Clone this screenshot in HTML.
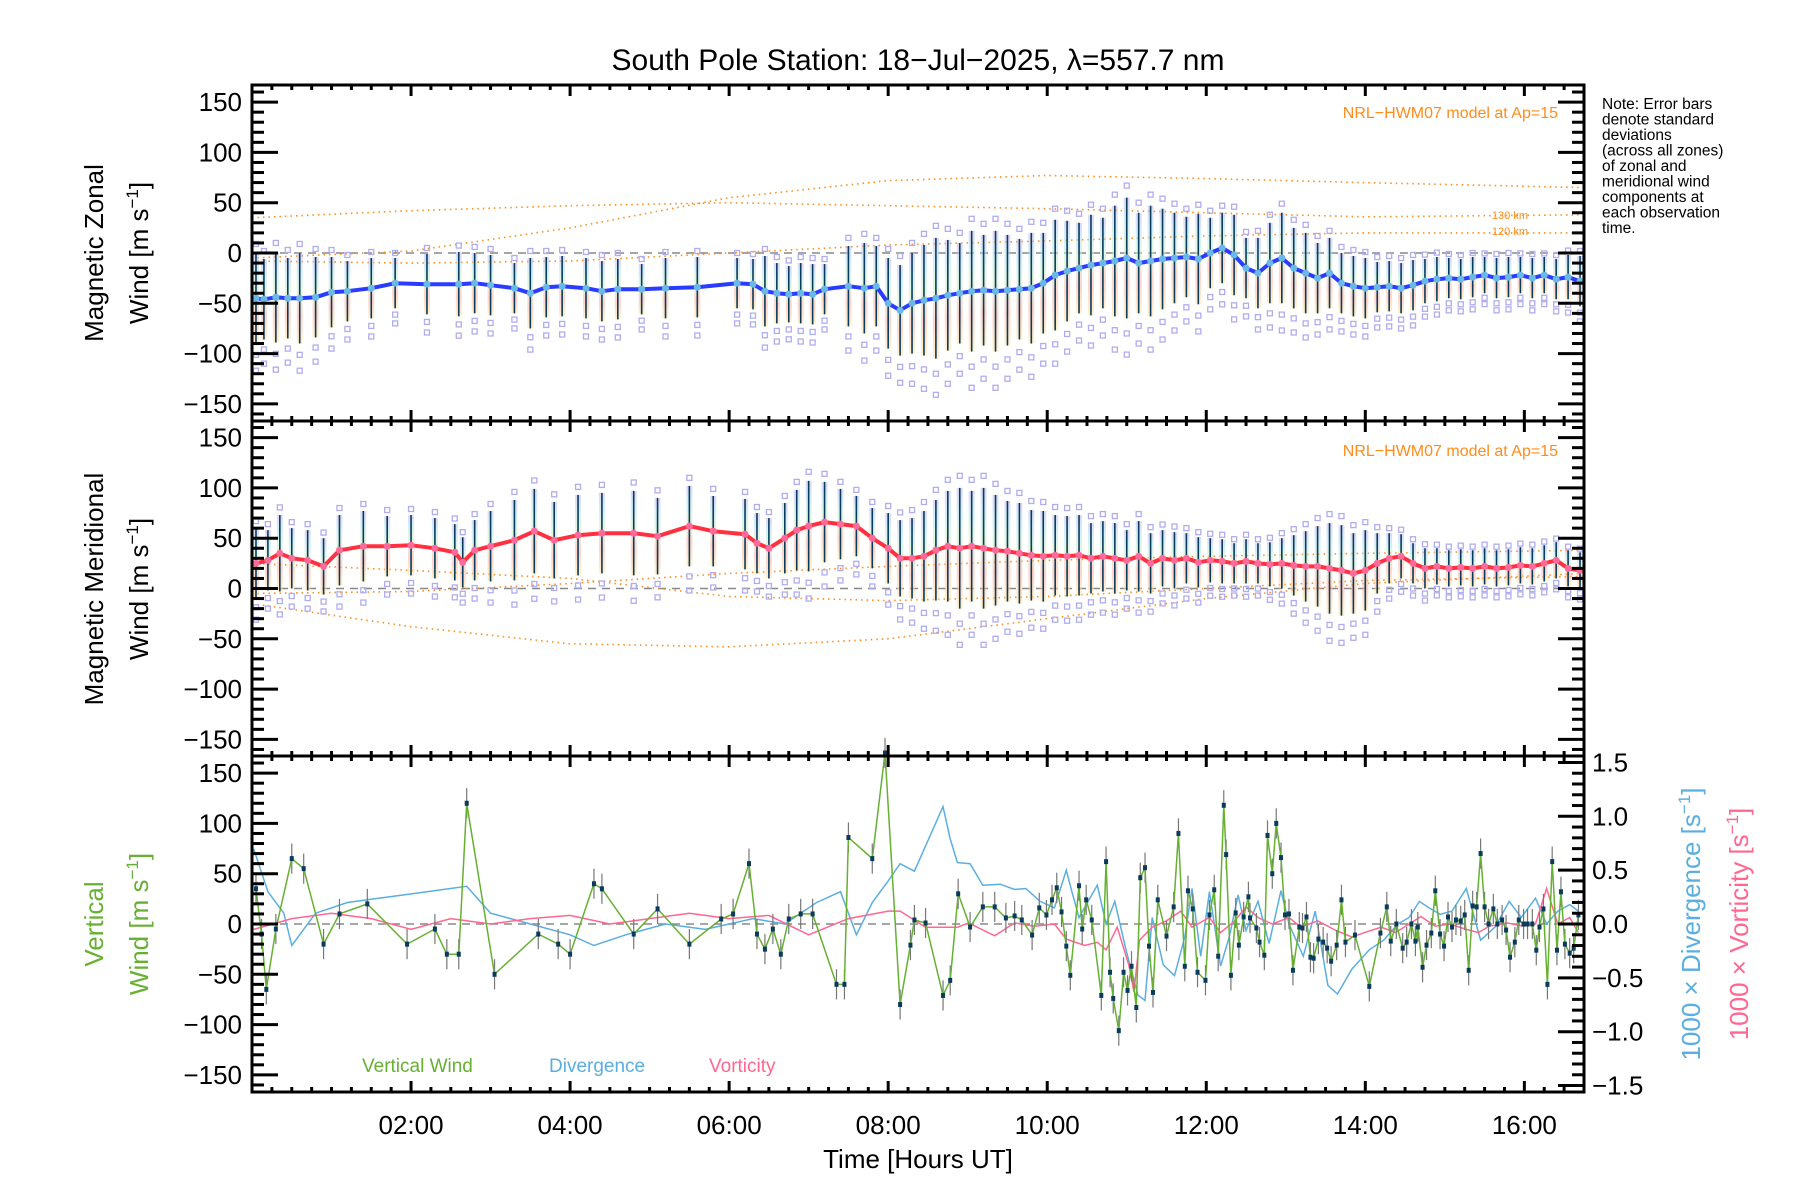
<!DOCTYPE html>
<html><head><meta charset="utf-8">
<style>
html,body{margin:0;padding:0;background:#fff;}
svg{display:block;font-family:"Liberation Sans","DejaVu Sans",sans-serif;}
</style></head>
<body>
<svg id="chart" width="1800" height="1200" viewBox="0 0 1800 1200" xmlns="http://www.w3.org/2000/svg">
<defs>
<linearGradient id="band" x1="0" y1="1" x2="0" y2="0">
<stop offset="0" stop-color="#ffe7a0"/><stop offset="0.3" stop-color="#ffb0a0"/><stop offset="0.6" stop-color="#c8f0c8"/><stop offset="0.8" stop-color="#b0e0f0"/><stop offset="1" stop-color="#c0b8f0"/>
</linearGradient>
</defs>
<text x="918" y="70" font-size="30" text-anchor="middle">South Pole Station: 18−Jul−2025, λ=557.7 nm</text>
<g id="g"></g>
<g font-size="15.5" fill="#000">
<text x="1602" y="109">Note: Error bars</text>
<text x="1602" y="124.5">denote standard</text>
<text x="1602" y="140">deviations</text>
<text x="1602" y="155.5">(across all zones)</text>
<text x="1602" y="171">of zonal and</text>
<text x="1602" y="186.5">meridional wind</text>
<text x="1602" y="202">components at</text>
<text x="1602" y="217.5">each observation</text>
<text x="1602" y="233">time.</text>
</g>
<text x="1558" y="118" font-size="16" fill="#ff8c1a" text-anchor="end">NRL−HWM07 model at Ap=15</text>
<text x="1558" y="456" font-size="16" fill="#ff8c1a" text-anchor="end">NRL−HWM07 model at Ap=15</text>
<text x="1528" y="219" font-size="11" fill="#ff8c1a" text-anchor="end">130 km</text>
<text x="1528" y="235" font-size="11" fill="#ff8c1a" text-anchor="end">120 km</text>
<g font-size="26" text-anchor="middle">
<text transform="translate(103,253) rotate(-90)">Magnetic Zonal</text>
<text transform="translate(148,253) rotate(-90)">Wind [m s<tspan font-size="17" dy="-10">−1</tspan><tspan dy="10">]</tspan></text>
</g>
<g font-size="26" text-anchor="middle">
<text transform="translate(103,589) rotate(-90)">Magnetic Meridional</text>
<text transform="translate(148,589) rotate(-90)">Wind [m s<tspan font-size="17" dy="-10">−1</tspan><tspan dy="10">]</tspan></text>
</g>
<g font-size="26" text-anchor="middle" fill="#66b032">
<text transform="translate(103,924) rotate(-90)">Vertical</text>
<text transform="translate(148,924) rotate(-90)">Wind [m s<tspan font-size="17" dy="-10">−1</tspan><tspan dy="10">]</tspan></text>
</g>
<text font-size="26" fill="#5aaee0" text-anchor="middle" transform="translate(1700,924) rotate(-90)">1000 × Divergence [s<tspan font-size="17" dy="-10">−1</tspan><tspan dy="10">]</tspan></text>
<text font-size="26" fill="#ff6690" text-anchor="middle" transform="translate(1748,924) rotate(-90)">1000 × Vorticity [s<tspan font-size="17" dy="-10">−1</tspan><tspan dy="10">]</tspan></text>
<text x="362" y="1072" font-size="19" fill="#66b032">Vertical Wind</text>
<text x="549" y="1072" font-size="19" fill="#5aaee0">Divergence</text>
<text x="709" y="1072" font-size="19" fill="#ff6690">Vorticity</text>
<text x="918" y="1168" font-size="26" text-anchor="middle">Time [Hours UT]</text>
</svg>
<script>
// ---- data ----
const xTickHours = [2,4,6,8,10,12,14,16];
const xTickLabels = ["02:00","04:00","06:00","08:00","10:00","12:00","14:00","16:00"];
const windTicks = [-150,-100,-50,0,50,100,150];
const rateTicks = [-1.5,-1.0,-0.5,0.0,0.5,1.0,1.5];
const zonalTimes = [0.05,0.15,0.3,0.45,0.6,0.8,1.0,1.2,1.5,1.8,2.2,2.6,2.8,3.0,3.3,3.5,3.7,3.9,4.2,4.4,4.6,4.9,5.2,5.6,6.1,6.3,6.45,6.6,6.75,6.9,7.05,7.2,7.5,7.7,7.85,8.0,8.15,8.3,8.45,8.6,8.75,8.9,9.05,9.2,9.35,9.5,9.65,9.8,9.95,10.1,10.25,10.4,10.55,10.7,10.85,11.0,11.15,11.3,11.45,11.6,11.75,11.9,12.05,12.2,12.35,12.5,12.65,12.8,12.95,13.1,13.25,13.4,13.55,13.7,13.85,14.0,14.15,14.3,14.45,14.6,14.75,14.9,15.05,15.2,15.35,15.5,15.65,15.8,15.95,16.1,16.25,16.4,16.55,16.7];
const zonalMean = [-45,-46,-44,-45,-45,-44,-39,-38,-35,-30,-31,-31,-30,-32,-35,-40,-34,-33,-35,-38,-36,-36,-35,-34,-30,-31,-38,-40,-41,-40,-41,-36,-33,-35,-33,-50,-57,-50,-47,-45,-42,-40,-38,-37,-38,-37,-36,-35,-30,-22,-18,-15,-12,-10,-8,-5,-10,-8,-6,-5,-4,-6,0,5,-2,-15,-20,-10,-5,-15,-20,-25,-20,-30,-33,-35,-34,-33,-35,-32,-28,-26,-25,-26,-24,-22,-25,-24,-22,-25,-22,-26,-24,-28];
const zonalStd = [45,40,45,40,45,40,35,30,30,25,30,32,30,30,25,35,30,30,30,30,30,25,30,30,25,25,35,30,28,30,30,25,40,45,40,45,45,50,55,60,55,50,60,55,60,55,50,55,50,55,50,45,50,45,55,60,50,55,50,45,40,45,35,35,40,30,35,40,45,40,40,35,35,30,30,30,25,25,25,25,22,22,20,20,20,18,20,20,18,20,18,20,22,25];
const meridTimes = [0.05,0.2,0.35,0.5,0.7,0.9,1.1,1.4,1.7,2.0,2.3,2.55,2.65,2.8,3.0,3.3,3.55,3.8,4.1,4.4,4.8,5.1,5.5,5.8,6.2,6.35,6.5,6.7,6.85,7.0,7.2,7.4,7.6,7.8,8.0,8.15,8.3,8.45,8.6,8.75,8.9,9.05,9.2,9.35,9.5,9.65,9.8,9.95,10.1,10.25,10.4,10.55,10.7,10.85,11.0,11.15,11.3,11.45,11.6,11.75,11.9,12.05,12.2,12.35,12.5,12.65,12.8,12.95,13.1,13.25,13.4,13.55,13.7,13.85,14.0,14.15,14.3,14.45,14.6,14.75,14.9,15.05,15.2,15.35,15.5,15.65,15.8,15.95,16.1,16.25,16.4,16.55,16.7];
const meridMean = [25,28,35,30,28,22,38,42,42,43,40,36,26,38,42,48,57,48,53,55,55,52,62,57,54,45,40,50,58,62,66,64,62,50,40,30,30,32,38,42,40,42,40,38,37,35,33,32,33,32,33,30,32,30,28,32,25,30,28,30,26,28,27,25,27,25,24,25,23,22,22,20,18,15,18,25,30,32,25,20,22,20,21,20,22,20,21,23,22,25,28,20,18];
const meridStd = [35,30,38,30,30,28,35,35,30,30,30,28,25,30,35,40,42,38,40,40,42,38,40,35,35,30,30,35,40,45,40,35,30,30,35,38,40,45,50,55,60,55,60,55,50,50,45,45,40,40,40,35,35,35,30,35,30,28,28,25,25,22,22,20,22,20,22,25,30,35,40,45,45,40,40,30,25,22,20,20,18,18,18,18,18,18,18,18,18,18,18,18,18];
const vertTimes = [0.05,0.12,0.18,0.3,0.5,0.65,0.9,1.1,1.45,1.95,2.3,2.45,2.6,2.7,3.05,3.6,3.85,4.0,4.3,4.4,4.8,5.1,5.5,5.9,6.05,6.25,6.35,6.45,6.55,6.65,6.75,6.9,7.05,7.35,7.45,7.5,7.8,7.96,8.15,8.28,8.33,8.47,8.69,8.78,8.88,9.03,9.19,9.34,9.48,9.59,9.68,9.81,9.9,9.99,10.06,10.12,10.18,10.24,10.29,10.4,10.44,10.49,10.56,10.68,10.74,10.79,10.83,10.9,10.96,11.01,11.06,11.12,11.17,11.23,11.28,11.33,11.39,11.5,11.59,11.65,11.73,11.77,11.83,11.89,11.99,12.04,12.1,12.15,12.22,12.25,12.31,12.37,12.41,12.47,12.53,12.55,12.63,12.67,12.73,12.77,12.83,12.88,12.94,12.99,13.04,13.09,13.17,13.21,13.26,13.31,13.35,13.41,13.47,13.52,13.57,13.64,13.7,13.75,13.87,14.05,14.19,14.27,14.32,14.39,14.47,14.52,14.58,14.63,14.66,14.72,14.77,14.83,14.88,14.94,14.99,15.04,15.09,15.14,15.2,15.25,15.3,15.35,15.4,15.45,15.5,15.55,15.61,15.66,15.72,15.77,15.82,15.88,15.93,15.99,16.04,16.1,16.15,16.19,16.24,16.29,16.35,16.41,16.46,16.51,16.57,16.62,16.68];
const vertWind = [35,-10,-65,-5,65,55,-20,10,20,-20,-5,-30,-30,120,-50,-10,-20,-30,40,35,-10,15,-20,5,10,60,-10,-25,-5,-30,5,10,10,-60,-60,86,65,170,-80,-21,4,1,-71,-56,30,-3,17,17,6,8,4,-11,16,9,24,36,12,-22,-51,38,-5,24,4,-71,62,-48,-74,-106,-48,-66,-42,-83,46,56,-22,-68,24,-12,17,90,-42,33,15,-48,-56,9,34,-32,118,69,-51,11,-21,7,27,6,-4,-18,-31,88,50,100,66,9,10,-46,-3,-4,7,-33,-34,-15,-18,-24,-37,-21,24,-18,-11,-62,-9,17,-17,0,-24,-18,0,-17,-3,-43,-21,-9,33,-10,-22,7,-3,4,3,9,-46,18,17,70,17,0,15,0,4,-6,-33,-18,4,0,0,0,-26,-3,15,-60,62,-26,32,-20,-29,-24,9];
const divTimes = [0.02,0.2,0.4,0.5,0.8,1.2,1.7,2.2,2.7,3.0,3.5,4.0,4.3,4.7,5.2,5.7,6.3,6.7,7.1,7.4,7.6,7.8,8.0,8.15,8.33,8.69,8.78,8.87,9.03,9.19,9.41,9.59,9.73,9.91,10.09,10.24,10.31,10.4,10.49,10.63,10.74,10.85,10.99,11.14,11.23,11.32,11.46,11.6,11.73,11.82,11.93,12.04,12.18,12.29,12.4,12.5,12.65,12.79,12.94,13.04,13.22,13.37,13.53,13.65,13.83,14.05,14.23,14.41,14.55,14.68,14.8,14.94,15.09,15.27,15.45,15.63,15.81,15.96,16.14,16.28,16.42,16.57,16.68];
const divergence = [0.7,0.3,0.1,-0.2,0.1,0.2,0.25,0.3,0.35,0.1,0.0,-0.1,-0.2,-0.1,0.0,-0.05,0.05,0.0,0.2,0.3,-0.1,0.2,0.4,0.56,0.49,1.09,0.79,0.57,0.56,0.36,0.37,0.32,0.33,0.21,0.15,0.5,0.3,0.06,0.18,0.36,0.0,0.21,-0.24,-0.66,-0.71,0.06,-0.38,-0.48,-0.12,0.33,-0.3,0.3,-0.39,-0.12,0.27,-0.06,0.21,-0.18,0.31,0.0,-0.3,0.12,-0.57,-0.65,-0.42,-0.24,-0.15,0.0,0.06,0.21,0.15,0.09,0.12,0.33,-0.15,-0.03,0.21,0.06,0.24,0.0,0.12,0.18,0.12];
const vortTimes = [0.02,0.5,1.0,1.5,2.0,2.5,3.0,3.5,4.0,4.5,5.0,5.5,6.0,6.5,7.0,7.5,8.0,8.15,8.47,8.87,9.01,9.34,9.59,9.84,10.09,10.24,10.47,10.63,10.74,10.88,11.03,11.09,11.16,11.32,11.5,11.68,11.82,12.04,12.18,12.36,12.5,12.65,12.83,13.04,13.19,13.4,13.63,13.83,13.99,14.2,14.38,14.55,14.7,14.88,15.06,15.27,15.42,15.56,15.78,15.99,16.14,16.28,16.42,16.57,16.68];
const vorticity = [-0.05,0.05,0.1,0.05,-0.05,0.05,0.0,0.05,0.08,0.0,0.05,0.1,0.05,0.08,-0.1,0.05,0.12,0.12,-0.03,-0.03,0.01,-0.11,0.01,-0.02,0.0,-0.14,-0.2,-0.17,-0.24,-0.03,-0.39,-0.63,-0.15,-0.03,0.03,0.12,-0.03,0.06,-0.08,0.03,0.16,0.06,0.0,0.06,-0.03,0.03,-0.06,-0.12,-0.08,-0.03,-0.08,0.0,0.07,-0.02,0.0,-0.05,-0.08,-0.02,0.01,-0.02,0.0,0.33,0.0,0.06,-0.08];
const modelTimes = [0,2,4,6,8,10,12,14,16.75];
const zonalModelA = [-5,2,25,55,72,77,74,70,65];
const zonalModelB = [35,42,47,50,47,44,40,36,38];
const zonalModelC = [-8,-10,-8,0,8,12,17,20,20];
const meridModelA = [25,18,10,-8,-12,-8,0,8,12];
const meridModelB = [-5,-3,5,15,22,28,32,35,38];
const meridModelC = [-15,-38,-55,-58,-50,-30,-10,5,15];

// ---- geometry ----
const L=252,R=1584,H0=0,H1=16.75;
const tops=[85,421,756],bots=[421,756,1092];
const g=document.getElementById('g');
const NS='http://www.w3.org/2000/svg';
function el(tag,at,parent){const e=document.createElementNS(NS,tag);for(const k in at)e.setAttribute(k,at[k]);(parent||g).appendChild(e);return e;}
function xs(h){return L+(h-H0)/(H1-H0)*(R-L);}
function ys(p,v){const mid=(tops[p]+bots[p])/2;return mid-v*168/167;}
function yr(v){const mid=(tops[2]+bots[2])/2;return mid-v*168/1.56;}
function pts(ts,vs,f){return ts.map((t,i)=>xs(t).toFixed(1)+','+f(vs[i]).toFixed(1)).join(' ');}

for(let p=0;p<3;p++){
  const z=el('line',{x1:L,x2:R,y1:ys(p,0),y2:ys(p,0),stroke:'#888','stroke-width':1.5,'stroke-dasharray':'8,6'});
  
  
}

function model(p,arr,name){
  const m=el('polyline',{points:pts(modelTimes,arr,v=>ys(p,v)),fill:'none',stroke:'#ff8c1a','stroke-width':1.6,'stroke-dasharray':'1.5,4'});
  
  
}
model(0,zonalModelA,'zonal-model-line');model(0,zonalModelB,'zonal-model-line-130km');model(0,zonalModelC,'zonal-model-line-120km');
model(1,meridModelA,'meridional-model-line');model(1,meridModelB,'meridional-model-line');model(1,meridModelC,'meridional-model-line');

function windPanel(p,ts,ms,ss,lineCol,dotCol,nm){
  const grp=el('g',{});
  
  
  ts.forEach((t,i)=>{
    const x=xs(t),y1=ys(p,ms[i]+ss[i]),y2=ys(p,ms[i]-ss[i]);
    const b=el('rect',{x:x-3,y:y1,width:6,height:y2-y1,fill:'url(#band)',opacity:0.55},grp);
    
    
    const sq=[ms[i]+ss[i]*1.2,ms[i]-ss[i]*1.25,ms[i]-ss[i]*1.6];
    sq.forEach(v=>{
      const r=el('rect',{x:x-2.5,y:ys(p,v)-2.5,width:5,height:5,fill:'none',stroke:'#b0acf0','stroke-width':1.3},grp);
      
      
    });
    const l=el('line',{x1:x,x2:x,y1:y1,y2:y2,stroke:'#0a3a5c','stroke-width':1.6},grp);
    
    
  });
  const pl=el('polyline',{points:pts(ts,ms,v=>ys(p,v)),fill:'none',stroke:lineCol,'stroke-width':4,'stroke-linejoin':'round'});
  
  
  ts.forEach((t,i)=>{
    const c=el('circle',{cx:xs(t),cy:ys(p,ms[i]),r:3.5,fill:dotCol});
    
    
  });
}
windPanel(0,zonalTimes,zonalMean,zonalStd,'#2a3cff','#6ab8e8','zonal');
windPanel(1,meridTimes,meridMean,meridStd,'#ff3040','#ff6a9a','meridional');

const dv=el('polyline',{points:pts(divTimes,divergence,yr),fill:'none',stroke:'#5aaee0','stroke-width':1.5});


const vo=el('polyline',{points:pts(vortTimes,vorticity,yr),fill:'none',stroke:'#ff6690','stroke-width':1.5});


vertTimes.forEach((t,i)=>{
  const e=el('line',{x1:xs(t),x2:xs(t),y1:ys(2,vertWind[i]+15),y2:ys(2,vertWind[i]-15),stroke:'#777','stroke-width':1.2});
  
  
});
const vw=el('polyline',{points:pts(vertTimes,vertWind,v=>ys(2,v)),fill:'none',stroke:'#66b032','stroke-width':1.5});


vertTimes.forEach((t,i)=>{
  const c=el('rect',{x:xs(t)-2,y:ys(2,vertWind[i])-2.5,width:4,height:5,fill:'#0a3a5c'});
  
  
});

for(let p=0;p<3;p++){
  const T=tops[p],B=bots[p];
  const f=el('rect',{x:L,y:T,width:R-L,height:B-T,fill:'none',stroke:'#000','stroke-width':3});
  
  
  for(let m=0;m*0.25<=H1+1e-6;m++){
    const h=m*0.25,x=xs(h),len=(m%8===0)?11:5;
    el('line',{x1:x,x2:x,y1:B,y2:B-len,stroke:'#000','stroke-width':3});
    el('line',{x1:x,x2:x,y1:T,y2:T+len,stroke:'#000','stroke-width':3});
  }
  for(let v=-160;v<=160;v+=10){
    const y=ys(p,v),len=(v%50===0)?26:12;
    el('line',{x1:L,x2:L+len,y1:y,y2:y,stroke:'#000','stroke-width':3});
    if(p<2) el('line',{x1:R,x2:R-len,y1:y,y2:y,stroke:'#000','stroke-width':3});
  }
  windTicks.forEach(v=>{
    const t=el('text',{x:L-10,y:ys(p,v)+9,'font-size':26,'text-anchor':'end'});
    t.textContent=(v<0?'−':'')+Math.abs(v);
    
    
  });
}
for(let k=-15;k<=15;k++){
  const v=k/10,y=yr(v),len=(k%5===0)?26:12;
  el('line',{x1:R,x2:R-len,y1:y,y2:y,stroke:'#000','stroke-width':3});
}
rateTicks.forEach(v=>{
  const t=el('text',{x:R+8,y:yr(v)+9,'font-size':26});
  t.textContent=(v<0?'−':'')+Math.abs(v).toFixed(1);
  
  
});
xTickHours.forEach((h,i)=>{
  const t=el('text',{x:xs(h),y:1134,'font-size':26,'text-anchor':'middle'});
  t.textContent=xTickLabels[i];
  
  
});
</script>
</body></html>
